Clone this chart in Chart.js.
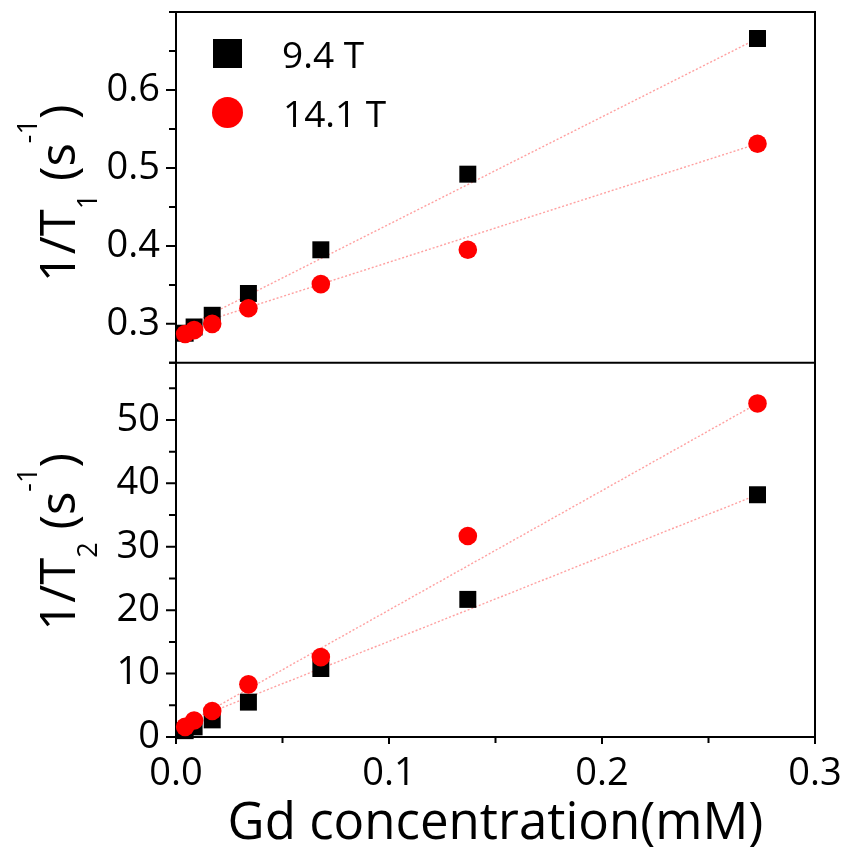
<!DOCTYPE html>
<html lang="en">
<head>
  <meta charset="UTF-8">
  <title>1/T1 and 1/T2 vs Gd concentration</title>
  <script src="https://cdn.jsdelivr.net/npm/chart.js"></script>
  <style>
    html, body {
      margin: 0;
      padding: 0;
      background: #fff;
    }
    #wrap {
      width: 848px;
      height: 857px;
    }
  </style>
</head>
<body>
  <div id="wrap"><canvas id="relaxChart" width="848" height="857"></canvas></div>

  <script>
    // Gd concentration (mM)
    const concentration = [0.0043, 0.0085, 0.017, 0.034, 0.068, 0.137, 0.273];

    // 1/T1 (s^-1)
    const r1_94T = [0.288, 0.296, 0.311, 0.339, 0.395, 0.492, 0.666];
    const r1_141T = [0.287, 0.292, 0.300, 0.320, 0.351, 0.395, 0.531];

    // 1/T2 (s^-1)
    const r2_94T = [1.0, 1.6, 2.7, 5.5, 10.8, 21.7, 38.2];
    const r2_141T = [1.6, 2.6, 4.1, 8.3, 12.6, 31.7, 52.6];

    // linear fits, read at both ends
    const fitX = [0.0043, 0.273];
    const fitR1_94T = [0.296, 0.666];
    const fitR1_141T = [0.295, 0.531];
    const fitR2_94T = [2.3, 38.2];
    const fitR2_141T = [2.0, 52.6];

    const xTickLabels = ['0.0', '0.1', '0.2', '0.3'];
    const r1TickLabels = ['0.3', '0.4', '0.5', '0.6'];
    const r2TickLabels = ['0', '10', '20', '30', '40', '50'];
    const legendNames = ['9.4 T', '14.1 T'];

    const FONT = "'Open Sans', 'DejaVu Sans', sans-serif";
    const fitColor = 'rgba(255, 120, 120, 0.7)';

    Chart.defaults.font.family = FONT;
    Chart.defaults.color = '#000';

    function points(ys) {
      return concentration.map((c, i) => ({x: c, y: ys[i]}));
    }
    function fitLine(ys) {
      return fitX.map((c, i) => ({x: c, y: ys[i]}));
    }
    function pickLabel(list) {
      return function (value) {
        const hit = list.find(t => Math.abs(parseFloat(t) - value) < 1e-6);
        return hit === undefined ? '' : hit;
      };
    }
    function isMajor(list, value) {
      return list.some(t => Math.abs(parseFloat(t) - value) < 1e-6);
    }
    // keep the plot box where it is, labels may hang over the edges
    function noPad(s) {
      s.paddingTop = 0;
      s.paddingBottom = 0;
      s.paddingLeft = 0;
      s.paddingRight = 0;
    }

    function lineSet(ys, axis) {
      return {
        type: 'line',
        label: 'fit',
        data: fitLine(ys),
        yAxisID: axis,
        borderColor: fitColor,
        borderWidth: 1.4,
        borderDash: [2, 2],
        pointRadius: 0,
        fill: false,
        order: 3
      };
    }
    function squareSet(ys, axis) {
      return {
        label: legendNames[0],
        data: points(ys),
        yAxisID: axis,
        pointStyle: 'rect',
        pointRadius: 12,
        backgroundColor: '#000',
        borderColor: '#000',
        borderWidth: 0,
        clip: false,
        order: 2
      };
    }
    function circleSet(ys, axis) {
      return {
        label: legendNames[1],
        data: points(ys),
        yAxisID: axis,
        pointStyle: 'circle',
        pointRadius: 9.3,
        backgroundColor: '#ff0000',
        borderColor: '#ff0000',
        borderWidth: 0,
        clip: false,
        order: 1
      };
    }

    // frame, divider between the panels and the tick marks
    const framePlugin = {
      id: 'frame',
      beforeDatasetsDraw(chart) {
        const {ctx, chartArea: a, scales} = chart;
        ctx.save();
        ctx.strokeStyle = '#000';
        ctx.lineWidth = 2;
        ctx.strokeRect(a.left, a.top, a.right - a.left, a.bottom - a.top);
        ctx.beginPath();
        ctx.moveTo(a.left - 7, scales.yT.bottom);
        ctx.lineTo(a.right, scales.yT.bottom);
        ctx.stroke();

        ctx.beginPath();
        [['yT', r1TickLabels], ['yB', r2TickLabels]].forEach(([id, labels]) => {
          const s = scales[id];
          s.ticks.forEach(t => {
            const y = s.getPixelForValue(t.value);
            const len = isMajor(labels, t.value) ? 10 : 7;
            ctx.moveTo(a.left, y);
            ctx.lineTo(a.left - len, y);
          });
        });
        const sx = scales.x;
        sx.ticks.forEach(t => {
          const x = sx.getPixelForValue(t.value);
          const len = isMajor(xTickLabels, t.value) ? 7 : 6;
          ctx.moveTo(x, a.bottom);
          ctx.lineTo(x, a.bottom + len);
        });
        ctx.stroke();
        ctx.restore();
      }
    };

    // rotated y titles with sub/superscripts
    function drawYTitle(ctx, xBase, yCenter, sub) {
      const big = '49px ' + FONT;
      const small = '27px ' + FONT;
      const parts = [
        {t: '1/T', f: big, dy: 0},
        {t: sub, f: small, dy: 22},
        {t: ' (s', f: big, dy: 0},
        {t: '-1', f: small, dy: -38},
        {t: ')', f: big, dy: 0}
      ];
      ctx.save();
      let total = 0;
      parts.forEach(p => {
        ctx.font = p.f;
        p.w = ctx.measureText(p.t).width;
        total += p.w;
      });
      ctx.translate(xBase, yCenter);
      ctx.rotate(-Math.PI / 2);
      ctx.fillStyle = '#000';
      ctx.textBaseline = 'alphabetic';
      let x = -total / 2;
      parts.forEach(p => {
        ctx.font = p.f;
        ctx.fillText(p.t, x, p.dy);
        x += p.w;
      });
      ctx.restore();
    }

    const titlesPlugin = {
      id: 'yTitles',
      afterDraw(chart) {
        const {ctx, scales} = chart;
        const t = scales.yT, b = scales.yB;
        drawYTitle(ctx, 75, (t.top + t.bottom) / 2 + 6, '1');
        drawYTitle(ctx, 75, (b.top + b.bottom) / 2 - 8, '2');
      }
    };

    // legend inside the upper panel
    const legendPlugin = {
      id: 'innerLegend',
      afterDraw(chart) {
        const {ctx, chartArea: a} = chart;
        const sq = chart.data.datasets[4];
        const ci = chart.data.datasets[5];
        const cx = a.left + 51.5;
        ctx.save();
        ctx.fillStyle = sq.backgroundColor;
        ctx.fillRect(cx - 14.5, a.top + 27, 29, 29);
        ctx.fillStyle = ci.backgroundColor;
        ctx.beginPath();
        ctx.arc(cx, a.top + 100.5, 15.5, 0, Math.PI * 2);
        ctx.fill();
        ctx.fillStyle = '#000';
        ctx.font = '37px ' + FONT;
        ctx.textBaseline = 'alphabetic';
        ctx.fillText(sq.label, a.left + 106, a.top + 56);
        ctx.fillText(ci.label, a.left + 107, a.top + 115);
        ctx.restore();
      }
    };

    const tickFont = {size: 38};

    const chart = new Chart(document.getElementById('relaxChart'), {
      type: 'scatter',
      data: {
        datasets: [
          lineSet(fitR1_94T, 'yT'),
          lineSet(fitR1_141T, 'yT'),
          lineSet(fitR2_94T, 'yB'),
          lineSet(fitR2_141T, 'yB'),
          squareSet(r1_94T, 'yT'),
          circleSet(r1_141T, 'yT'),
          squareSet(r2_94T, 'yB'),
          circleSet(r2_141T, 'yB')
        ]
      },
      options: {
        responsive: false,
        animation: false,
        devicePixelRatio: 1,
        layout: {
          padding: {left: 0, right: 33, top: 12, bottom: 0}
        },
        plugins: {
          legend: {display: false},
          tooltip: {enabled: false}
        },
        scales: {
          x: {
            type: 'linear',
            min: 0,
            max: 0.3,
            ticks: {
              stepSize: 0.05,
              autoSkip: false,
              maxRotation: 0,
              padding: 6,
              font: tickFont,
              color: '#000',
              callback: pickLabel(xTickLabels)
            },
            grid: {drawOnChartArea: false, tickLength: 8, tickColor: 'rgba(0,0,0,0)'},
            border: {display: false},
            title: {
              display: true,
              text: 'Gd concentration(mM)',
              font: {size: 51},
              color: '#000',
              padding: {top: 0, bottom: 2}
            },
            afterFit(s) { s.height = 120; noPad(s); }
          },
          yB: {
            type: 'linear',
            position: 'left',
            stack: 'rates',
            stackWeight: 374,
            weight: 1,
            min: 0,
            max: 59,
            ticks: {
              stepSize: 5,
              includeBounds: false,
              autoSkip: false,
              padding: 6,
              font: tickFont,
              color: '#000',
              callback: pickLabel(r2TickLabels)
            },
            grid: {drawOnChartArea: false, tickLength: 10, tickColor: 'rgba(0,0,0,0)'},
            border: {display: false},
            afterFit(s) { s.width = 176; noPad(s); }
          },
          yT: {
            type: 'linear',
            position: 'left',
            stack: 'rates',
            stackWeight: 350.7,
            weight: 2,
            min: 0.25,
            max: 0.7,
            ticks: {
              stepSize: 0.05,
              includeBounds: false,
              autoSkip: false,
              padding: 6,
              font: tickFont,
              color: '#000',
              callback: pickLabel(r1TickLabels)
            },
            grid: {drawOnChartArea: false, tickLength: 10, tickColor: 'rgba(0,0,0,0)'},
            border: {display: false},
            afterFit(s) { s.width = 176; noPad(s); }
          }
        }
      },
      plugins: [framePlugin, titlesPlugin, legendPlugin]
    });
  </script>
</body>
</html>
